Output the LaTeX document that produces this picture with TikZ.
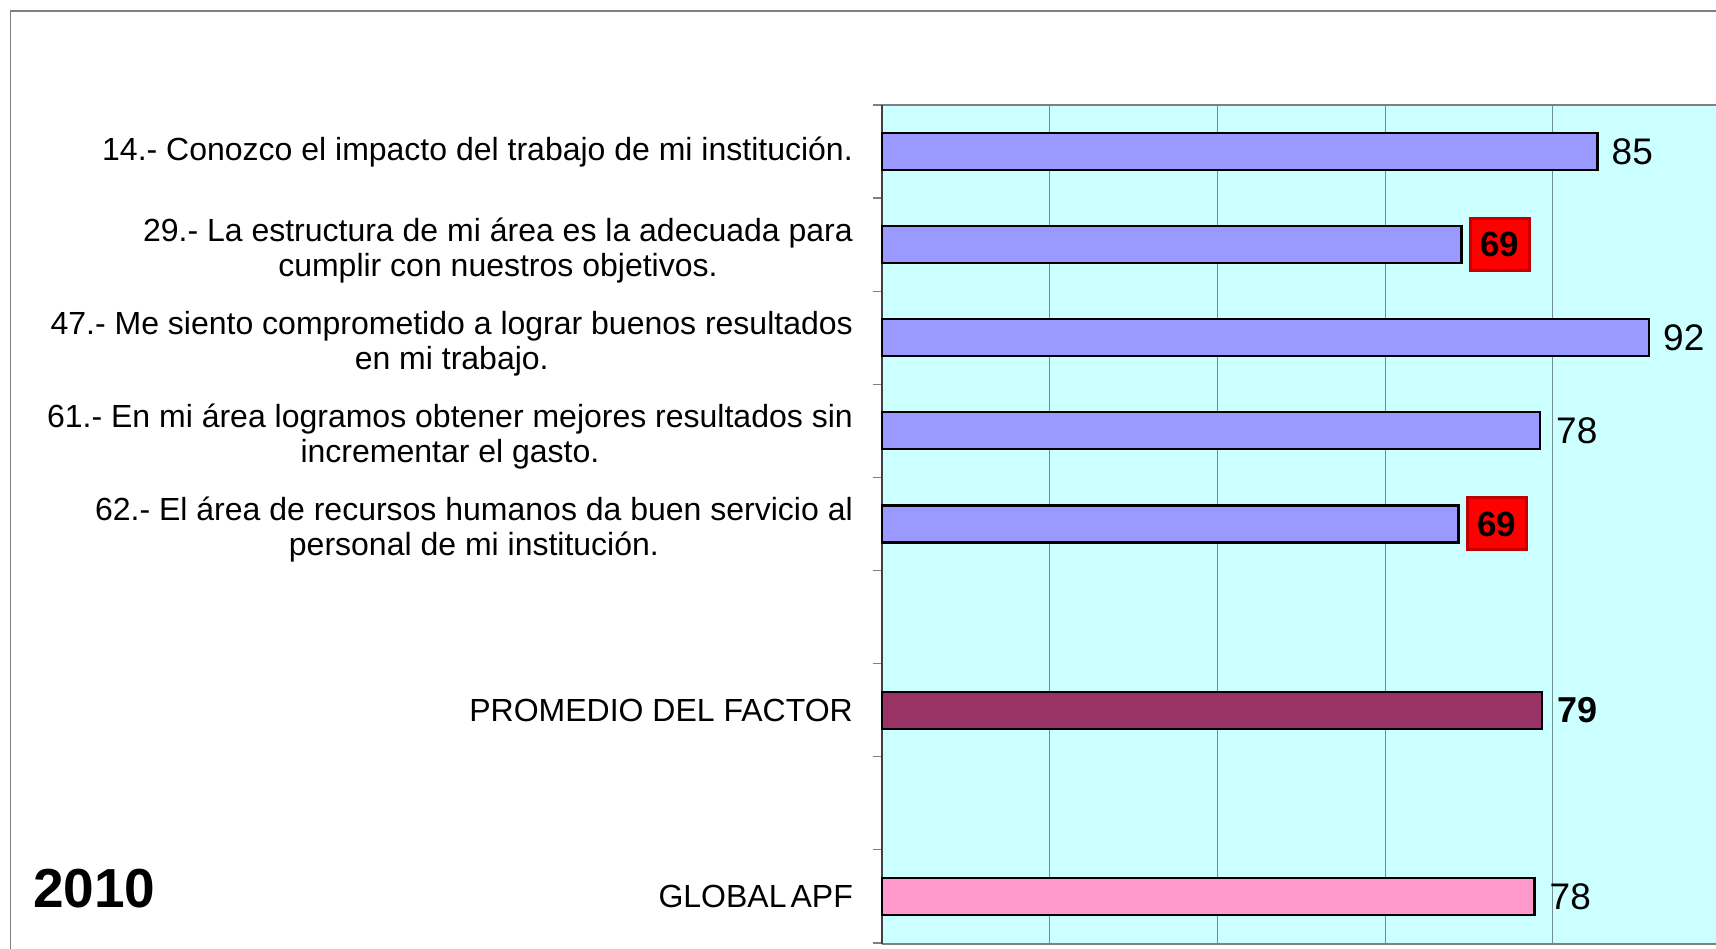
\documentclass[tikz,border=0pt]{standalone}
\usepackage{fontspec}
\setmainfont{Liberation Sans}
\definecolor{plotbg}{HTML}{CCFFFF}
\definecolor{barblue}{HTML}{9999FF}
\definecolor{barplum}{HTML}{993366}
\definecolor{barpink}{HTML}{FF99CC}
\definecolor{darkred}{HTML}{C00000}
\definecolor{framegray}{HTML}{808080}
\definecolor{gridgray}{HTML}{6F8F8F}
\tikzset{
  bar/.style={draw=black, line width=2.2pt, minimum height=37pt, inner sep=0pt, anchor=west, outer sep=0pt},
  qlabel/.style={anchor=east, align=center, inner sep=0pt, font=\fontsize{32}{35}\selectfont},
  vlabel/.style={anchor=west, inner sep=0pt, font=\fontsize{37}{40}\selectfont},
  vbold/.style={anchor=west, inner sep=0pt, font=\fontsize{36}{40}\selectfont\bfseries},
  redbox/.style={anchor=west, fill=red, draw=darkred, line width=3pt, minimum width=59pt, minimum height=52pt, inner sep=0pt, font=\fontsize{35}{38}\selectfont\bfseries},
  gridl/.style={draw=gridgray, line width=1pt},
  tickl/.style={draw=framegray, line width=1.2pt}
}
\begin{document}
\begin{tikzpicture}[x=1pt,y=-1pt]
\useasboundingbox (0,0) rectangle (1716,949);
% outer frame
\draw[framegray, line width=1.5pt] (10.5,949) -- (10.5,11) -- (1716,11);
% plot area
\fill[plotbg] (882,105) rectangle (1716,944);
\foreach \gx in {1049.9,1217.4,1385.0,1552.5} \draw[gridl] (\gx,105) -- (\gx,944);
\draw[framegray, line width=2pt] (882,105) -- (1716,105);
\draw[framegray, line width=2pt] (882,944) -- (1716,944);
\foreach \k in {0,...,9} \draw[tickl] (872.5,{105+93.1*\k}) -- (882,{105+93.1*\k});
\draw[black!75, line width=1.5pt] (882,105) -- (882,944);
% bars
\node[bar, fill=barblue, minimum width=715.5pt] (b1) at (882,151.55) {};
\node[bar, fill=barblue, minimum width=579.5pt] (b2) at (882,244.65) {};
\node[bar, fill=barblue, minimum width=767pt] (b3) at (882,337.75) {};
\node[bar, fill=barblue, minimum width=658pt] (b4) at (882,430.85) {};
\node[bar, fill=barblue, minimum width=576.5pt] (b5) at (882,523.95) {};
\node[bar, fill=barplum, minimum width=660pt] (b6) at (882,710.15) {};
\node[bar, fill=barpink, minimum width=652.5pt] (b7) at (882,896.35) {};
% values
\node[vlabel, xshift=14pt] (v1) at (b1.east) {85};
\node[redbox, xshift=7pt] (v2) at (b2.east) {69};
\node[vlabel, xshift=14pt] (v3) at (b3.east) {92};
\node[vlabel, xshift=16pt] (v4) at (b4.east) {78};
\node[redbox, xshift=7pt] (v5) at (b5.east) {69};
\node[vbold, xshift=15pt] (v6) at (b6.east) {79};
\node[vlabel, xshift=15pt] (v7) at (b7.east) {78};
% category labels
\node[qlabel] (l1) at (853,151.55) {14.- Conozco el impacto del trabajo de mi institución.};
\node[qlabel] (l2) at (853,250.5) {29.- La estructura de mi área es la adecuada para\\cumplir con nuestros objetivos.};
\node[qlabel] (l3) at (853,343.6) {47.- Me siento comprometido a lograr buenos resultados\\en mi trabajo.};
\node[qlabel] (l4) at (853,436.7) {61.- En mi área logramos obtener mejores resultados sin\\incrementar el gasto.};
\node[qlabel] (l5) at (853,529.8) {62.- El área de recursos humanos da buen servicio al\\personal de mi institución.};
\node[qlabel] (l6) at (853,710.15) {PROMEDIO DEL FACTOR};
\node[qlabel] (l7) at (853,896.35) {GLOBAL\hspace{4pt}APF};
% year
\node[anchor=west, inner sep=0pt, font=\fontsize{55}{60}\selectfont\bfseries] (yr) at (33,889) {2010};
\end{tikzpicture}
\end{document}
